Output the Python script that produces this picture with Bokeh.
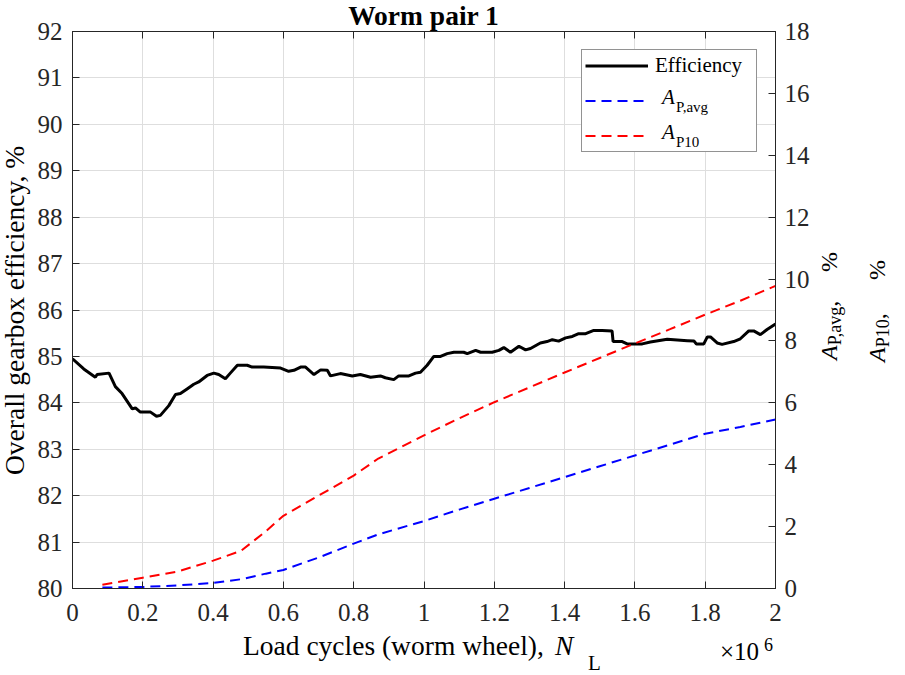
from bokeh.plotting import figure
from bokeh.models import (Range1d, LinearAxis, FixedTicker, Legend, LegendItem, Div,
                          CustomJSTickFormatter)
from bokeh.layouts import column
from bokeh.embed import file_html
from bokeh.resources import INLINE

# ---------------- data ----------------
eff_cycles = [0, 32000, 65000, 70000, 104000, 122000, 141000, 170000, 179000, 193000,
              222000, 239000, 250000, 274000, 293000, 307000, 326000, 345000, 359000, 383000,
              402000, 416000, 435000, 449000, 469000, 497000, 511000, 544000, 592000, 615000,
              630000, 649000, 663000, 687000, 706000, 725000, 734000, 762000, 796000, 819000,
              848000, 876000, 890000, 914000, 928000, 957000, 976000, 990000, 1009000, 1028000,
              1047000, 1066000, 1085000, 1113000, 1123000, 1147000, 1161000, 1194000, 1213000,
              1227000, 1246000, 1270000, 1289000, 1303000, 1331000, 1350000, 1365000, 1383000,
              1403000, 1422000, 1440000, 1460000, 1483000, 1507000, 1535000, 1538000, 1564000,
              1578000, 1621000, 1644000, 1692000, 1749000, 1768000, 1775000, 1796000, 1806000,
              1815000, 1834000, 1848000, 1881000, 1900000, 1924000, 1938000, 1957000, 1976000,
              2000000]
efficiency = [84.95, 84.73, 84.55, 84.61, 84.64, 84.35, 84.20, 83.87, 83.89, 83.80,
              83.80, 83.71, 83.73, 83.94, 84.18, 84.20, 84.30, 84.40, 84.45, 84.59,
              84.64, 84.61, 84.52, 84.64, 84.81, 84.81, 84.77, 84.77, 84.75, 84.68,
              84.70, 84.77, 84.77, 84.61, 84.71, 84.70, 84.58, 84.63, 84.58, 84.61,
              84.55, 84.58, 84.54, 84.50, 84.58, 84.58, 84.64, 84.66, 84.81, 85.00,
              85.00, 85.06, 85.09, 85.09, 85.06, 85.13, 85.09, 85.09, 85.13,
              85.19, 85.09, 85.22, 85.14, 85.17, 85.29, 85.32, 85.36, 85.33,
              85.40, 85.43, 85.49, 85.49, 85.56, 85.56, 85.55, 85.32, 85.32,
              85.27, 85.27, 85.31, 85.37, 85.34, 85.33, 85.27, 85.27, 85.42,
              85.42, 85.29, 85.26, 85.32, 85.38, 85.55, 85.55, 85.47, 85.58,
              85.70]

a_cycles = [85000, 200000, 300000, 400000, 480000, 550000, 600000, 700000, 800000, 870000,
            1000000, 1100000, 1200000, 1300000, 1400000, 1500000, 1600000, 1700000,
            1800000, 1900000, 2000000]
a_p_avg = [0.03, 0.05, 0.10, 0.18, 0.30, 0.48, 0.60, 1.00, 1.45, 1.75,
           2.18, 2.55, 2.90, 3.25, 3.60, 3.95, 4.30, 4.65, 5.00, 5.22, 5.46]
a_p10 = [0.12, 0.35, 0.55, 0.90, 1.22, 1.85, 2.35, 3.00, 3.65, 4.20,
         4.95, 5.50, 6.02, 6.50, 6.98, 7.45, 7.92, 8.38, 8.85, 9.30, 9.78]

x_ticks = [0, 200000, 400000, 600000, 800000, 1000000, 1200000, 1400000, 1600000, 1800000, 2000000]
x_tick_labels = ["0", "0.2", "0.4", "0.6", "0.8", "1", "1.2", "1.4", "1.6", "1.8", "2"]
left_ticks = list(range(80, 93))
right_ticks = list(range(0, 19, 2))

title_text = "Worm pair 1"
left_label = "Overall gearbox efficiency, %"
x_label = "Load cycles (worm wheel),"

# ---------------- styling ----------------
FONT = "Liberation Serif"
AX = "#262626"
W, H = 905, 675

p = figure(frame_width=703, frame_height=557,
           x_range=Range1d(0, 2000000), y_range=Range1d(80, 92),
           output_backend="svg", toolbar_location=None,
           min_border_left=72, min_border_right=130, min_border_top=31, min_border_bottom=87)
p.background_fill_color = "white"
p.border_fill_color = "white"
p.outline_line_color = AX
p.outline_line_width = 1
p.extra_y_ranges = {"A": Range1d(0, 18)}

xa = p.xaxis[0]
xa.ticker = FixedTicker(ticks=x_ticks)
xa.major_label_overrides = {t: l for t, l in zip(x_ticks, x_tick_labels)}
ya = p.yaxis[0]
ya.ticker = FixedTicker(ticks=left_ticks)

ra = LinearAxis(y_range_name="A", ticker=FixedTicker(ticks=right_ticks))
p.add_layout(ra, "right")

for ax in (xa, ya, ra):
    ax.axis_line_color = AX
    ax.major_tick_line_color = AX
    ax.major_tick_in = 7
    ax.major_tick_out = 0
    ax.minor_tick_line_color = None
    ax.major_label_text_font = FONT
    ax.major_label_text_font_size = "25px"
    ax.major_label_text_color = AX
xa.major_label_standoff = 15
ya.major_label_standoff = 10
ra.major_label_standoff = 9

# top axis (ticks only, closes the box)
ta = LinearAxis(ticker=FixedTicker(ticks=x_ticks),
                formatter=CustomJSTickFormatter(code="return ''"))
ta.axis_line_color = AX
ta.major_tick_line_color = AX
ta.major_tick_in = 7
ta.major_tick_out = 0
ta.minor_tick_line_color = None
ta.major_label_text_font_size = "0px"
ta.major_label_standoff = 0
p.add_layout(ta, "above")

p.xgrid.grid_line_color = "#dedede"
p.ygrid.grid_line_color = "#dedede"

# ---------------- lines ----------------
r_eff = p.line(eff_cycles, efficiency, line_color="black", line_width=3)
r_avg = p.line(a_cycles, a_p_avg, y_range_name="A", line_color="#0000ff",
               line_width=2, line_dash="10 6")
r_p10 = p.line(a_cycles, a_p10, y_range_name="A", line_color="#ff0000",
               line_width=2, line_dash="10 6")

legend = Legend(items=[LegendItem(label="Efficiency", renderers=[r_eff]),
                       LegendItem(label=" ", renderers=[r_avg]),
                       LegendItem(label=" ", renderers=[r_p10])],
                location="top_right", margin=18, padding=3, spacing=10,
                glyph_width=63, glyph_height=25, label_height=25, label_width=98,
                label_standoff=7,
                label_text_font=FONT, label_text_font_size="21px", label_text_color="black",
                border_line_color=AX, border_line_width=1, background_fill_color="white",
                background_fill_alpha=1)
p.add_layout(legend)

# ---------------- rich texts (italic / subscripts) as an HTML overlay ----------------
ASC = 0.8375  # baseline position inside a line-height:1 box (Liberation Serif)


def span(text, x, baseline, size, style="normal", weight="normal", rotate=False,
         extra=""):
    base = ("position:absolute;white-space:nowrap;line-height:1;margin:0;padding:0;"
            f"font-family:'{FONT}';font-size:{size}px;font-style:{style};"
            f"font-weight:{weight};color:#000;")
    if rotate:
        # x = baseline position (page x), baseline arg = start of text (page y)
        left = x - ASC * size
        top = baseline
        base += "transform:rotate(-90deg);transform-origin:0 0;"
    else:
        left = x
        top = baseline - ASC * size
    return f'<span style="{base}left:{left:.1f}px;top:{top:.1f}px;{extra}">{text}</span>'


def sub(text, size, drop):
    return (f'<span style="font-size:{size}px;font-style:normal;position:relative;'
            f'top:{drop}px;">{text}</span>')


parts = []
# title, centred over the frame (72..775)
parts.append(span(title_text, 72, 25, 27.5, weight="bold",
                  extra="width:703px;text-align:center;"))
# left axis label, rotated, centred on frame
parts.append(span(left_label, 23.5, 475, 27.5, rotate=True))
# x axis label
parts.append(span(x_label, 243, 655, 27.5))
parts.append(span("N", 555, 655, 27.5, style="italic"))
parts.append(span("L", 588, 671, 21))
parts.append(span("&times;10", 720, 660, 25))
parts.append(span("6", 764, 651, 18))
# right axis label, two rotated lines
parts.append(span("<i>A</i>" + sub("P,avg", 18, 4) + ",", 837, 360, 24, rotate=True))
parts.append(span("%", 837, 272, 24, rotate=True))
parts.append(span("<i>A</i>" + sub("P10", 18, 4) + ",", 885, 362, 24, rotate=True))
parts.append(span("%", 885, 280, 24, rotate=True))
# legend entries with subscripts
parts.append(span("A", 662, 105, 21, style="italic"))
parts.append(span("P,avg", 676, 113, 15))
parts.append(span("A", 662, 140, 21, style="italic"))
parts.append(span("P10", 676, 148, 15))

html = (f'<div style="position:relative;width:{W}px;height:{H}px;pointer-events:none;">'
        + "".join(parts) + "</div>")
overlay = Div(text=html, width=W, height=H, margin=(-H, 0, 0, 0))

layout = column(p, overlay)
open("out.html", "w").write(file_html(layout, INLINE))
